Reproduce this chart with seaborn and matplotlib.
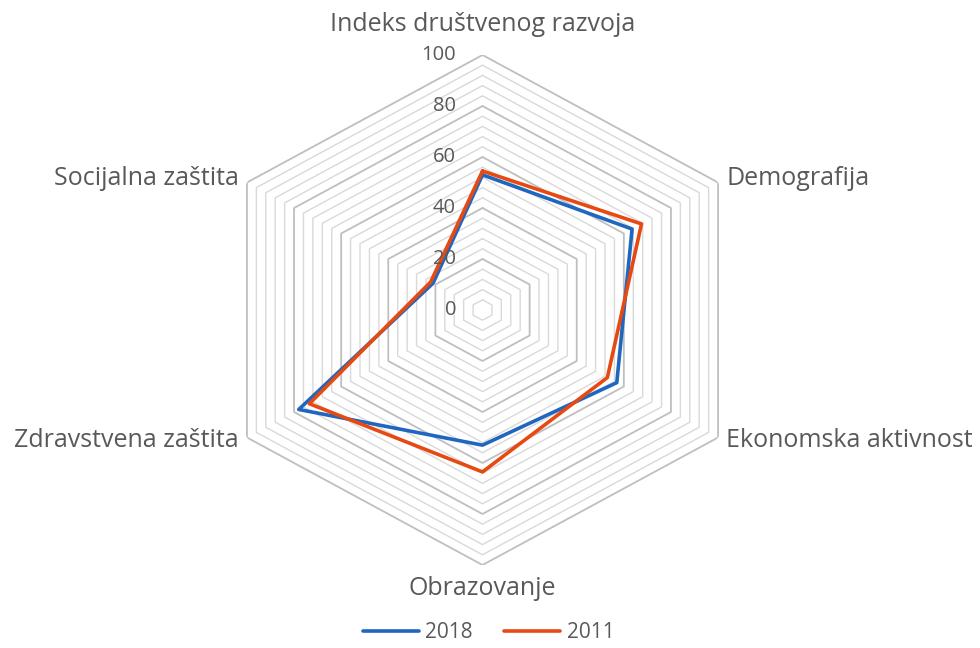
import numpy as np
import pandas as pd
import matplotlib.pyplot as plt
import seaborn as sns

categories = ['Indeks društvenog razvoja', 'Demografija', 'Ekonomska aktivnost',
              'Obrazovanje', 'Zdravstvena zaštita', 'Socijalna zaštita']
values_2018 = [53, 63.5, 57, 53, 78, 21]
values_2011 = [54.5, 67.5, 53, 63.5, 73.5, 22]
years = ['2018', '2011']
colors = ['#1F66C1', '#E64A12']
radial_ticks = [0, 20, 40, 60, 80, 100]

sns.set_theme(style='white')
plt.rcParams['font.family'] = ['Open Sans', 'DejaVu Sans']
text_color = '#595959'

# angles, closed polygon
theta = np.linspace(0, 2 * np.pi, len(categories), endpoint=False)
theta_closed = np.append(theta, theta[0])

rows = []
for year, vals in zip(years, [values_2018, values_2011]):
    closed = list(vals) + [vals[0]]
    for i, (t, v) in enumerate(zip(theta_closed, closed)):
        rows.append({'year': year, 'theta': t, 'value': v, 'order': i})
df = pd.DataFrame(rows)

fig = plt.figure(figsize=(9.8, 6.48), dpi=100)
ax = fig.add_axes([0.2148, 0.1281, 0.5551, 0.787], projection='polar')
ax.set_aspect('auto')
ax.set_theta_offset(np.pi / 2)
ax.set_theta_direction(-1)
ax.set_ylim(0, 100)
ax.grid(False)
ax.spines['polar'].set_visible(False)
ax.set_xticks([])
ax.set_yticks([])

# hexagonal grid
for r in range(4, 101, 4):
    major = r % 20 == 0
    ax.plot(theta_closed, [r] * len(theta_closed),
            color='#BFBFBF' if major else '#D9D9D9',
            lw=1.3 if major else 1.0, zorder=1)

sns.lineplot(data=df, x='theta', y='value', hue='year', palette=colors,
             hue_order=years, sort=False, estimator=None, lw=2.6,
             legend=False, ax=ax, zorder=3)
ax.set_xlabel('')
ax.set_ylabel('')

# radial labels
for v in radial_ticks:
    ax.annotate(str(v), xy=(0, v), xytext=(-19, 0), textcoords='offset points',
                ha='right', va='center', fontsize=14.5, color=text_color)

# category labels
offsets = [((0, 22), 'center', 'center'), ((6, 3), 'left', 'center'),
           ((6, -2), 'left', 'center'), ((0, -17), 'center', 'center'),
           ((-6, -2), 'right', 'center'), ((-6, 3), 'right', 'center')]
for t, name, (off, ha, va) in zip(theta, categories, offsets):
    ax.annotate(name, xy=(t, 100), xytext=off, textcoords='offset points',
                ha=ha, va=va, fontsize=18, color=text_color, annotation_clip=False)

handles = [plt.Line2D([], [], color=c, lw=2.6) for c in colors]
fig.legend(handles, years, loc='center', bbox_to_anchor=(0.4985, 1 - 633 / 648),
           ncol=2, frameon=False, fontsize=15, handlelength=2.7,
           handletextpad=0.3, columnspacing=1.5, labelcolor=text_color)

fig.savefig('out.png', dpi=100)
